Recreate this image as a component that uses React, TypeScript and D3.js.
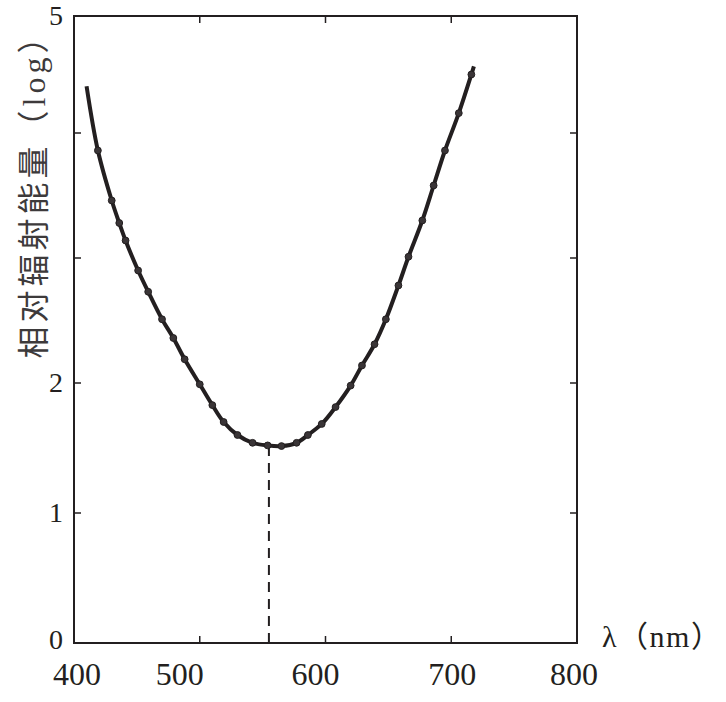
import { useEffect, useRef } from 'react'
import * as d3 from 'd3'

// wavelength (nm) and relative radiant energy (log)
const curveWavelength = [410, 419, 430, 436, 441, 451, 459, 470, 479, 488, 500, 510, 519, 530, 542, 554, 565, 577, 586, 597, 608, 620, 629, 639, 648, 658, 666, 677, 686, 695, 706, 716, 718]
const curveValue = [4.40, 3.86, 3.46, 3.28, 3.14, 2.90, 2.73, 2.51, 2.36, 2.19, 1.99, 1.83, 1.70, 1.60, 1.54, 1.52, 1.515, 1.54, 1.60, 1.685, 1.815, 1.98, 2.14, 2.31, 2.51, 2.78, 3.01, 3.30, 3.58, 3.86, 4.17, 4.50, 4.57]

const xTicks = [400, 500, 600, 700, 800]
const yTicks = [0, 1, 2, 3, 4, 5]
const yTickLabels = ['0', '1', '2', '', '', '5']
const peakWavelength = 555

const xTitle = 'λ（nm）'
const yTitle = '相对辐射能量（log）'

export default function App() {
  const svgRef = useRef<SVGSVGElement>(null)

  useEffect(() => {
    const svg = d3.select(svgRef.current)
    svg.selectAll('*').remove()

    const left = 74, right = 577, top = 16, bottom = 643
    const ink = '#231f20'
    const serif = "'Liberation Serif', 'Times New Roman', serif"

    const x = d3.scaleLinear().domain([400, 800]).range([left, right])
    // the printed axis is not quite even, so map each unit by hand
    const y = d3.scaleLinear().domain(yTicks).range([643, 513, 383, 258, 133, 16])

    const pts = curveWavelength.map((w, i) => ({ w, v: curveValue[i] }))

    // frame
    svg.append('rect')
      .attr('x', left).attr('y', top)
      .attr('width', right - left).attr('height', bottom - top)
      .attr('fill', 'none').attr('stroke', ink).attr('stroke-width', 2)

    const tk = 7
    // x ticks (inward, bottom and top)
    xTicks.slice(1, -1).forEach(t => {
      svg.append('line').attr('x1', x(t)).attr('x2', x(t)).attr('y1', bottom).attr('y2', bottom - tk)
        .attr('stroke', ink).attr('stroke-width', 1.5)
      svg.append('line').attr('x1', x(t)).attr('x2', x(t)).attr('y1', top).attr('y2', top + tk)
        .attr('stroke', ink).attr('stroke-width', 1.5)
    })
    // the printed labels sit a little off their ticks
    const labelNudge = [3, -20, -10, 1, -3]
    svg.selectAll('.xlab').data(xTicks).enter().append('text')
      .attr('x', (d, i) => x(d) + labelNudge[i]).attr('y', 685)
      .attr('text-anchor', 'middle')
      .style('font-family', serif).style('font-size', '32px').attr('fill', ink)
      .text(d => d)

    // y ticks (inward, left and right)
    yTicks.slice(1, -1).forEach(t => {
      svg.append('line').attr('x1', left).attr('x2', left + tk).attr('y1', y(t)).attr('y2', y(t))
        .attr('stroke', ink).attr('stroke-width', 1.5)
      svg.append('line').attr('x1', right).attr('x2', right - tk).attr('y1', y(t)).attr('y2', y(t))
        .attr('stroke', ink).attr('stroke-width', 1.5)
    })
    svg.selectAll('.ylab').data(yTicks).enter().append('text')
      .attr('x', 63).attr('y', d => y(d) - (d === 0 ? 3 : 0)).attr('dy', '0.33em')
      .attr('text-anchor', 'end')
      .style('font-family', serif).style('font-size', '28px').attr('fill', ink)
      .text((d, i) => yTickLabels[i])

    // titles
    svg.append('text')
      .attr('x', 602).attr('y', 647)
      .style('font-family', `${serif}, 'Noto Sans CJK SC'`).style('font-size', '30px')
      .attr('letter-spacing', 1.5).attr('fill', ink)
      .text(xTitle)
    svg.append('text')
      .attr('transform', `translate(45,188) rotate(-90)`)
      .attr('text-anchor', 'middle')
      .style('font-family', `${serif}, 'Noto Sans CJK SC'`).style('font-size', '32px')
      .attr('letter-spacing', 4).attr('fill', '#3d3a3b')
      .text(yTitle)

    // dashed line at the minimum
    const minV = d3.min(curveValue) || 0
    svg.append('line')
      .attr('x1', x(peakWavelength)).attr('x2', x(peakWavelength))
      .attr('y1', y(minV)).attr('y2', bottom)
      .attr('stroke', ink).attr('stroke-width', 2).attr('stroke-dasharray', '10,7')

    // curve
    const line = d3.line<{ w: number, v: number }>()
      .x(d => x(d.w)).y(d => y(d.v))
      .curve(d3.curveCatmullRom)
    svg.append('path').datum(pts)
      .attr('d', line)
      .attr('fill', 'none').attr('stroke', ink).attr('stroke-width', 4)

    // markers (not on the two end points)
    svg.selectAll('.dot').data(pts.slice(1, -1)).enter().append('circle')
      .attr('cx', d => x(d.w)).attr('cy', d => y(d.v))
      .attr('r', 3.4).attr('fill', '#3a3537').attr('stroke', ink).attr('stroke-width', 1)
  }, [])

  return (
    <svg ref={svgRef} width={726} height={702}
      style={{ position: 'absolute', left: 0, top: 0, background: '#fff' }} />
  )
}
